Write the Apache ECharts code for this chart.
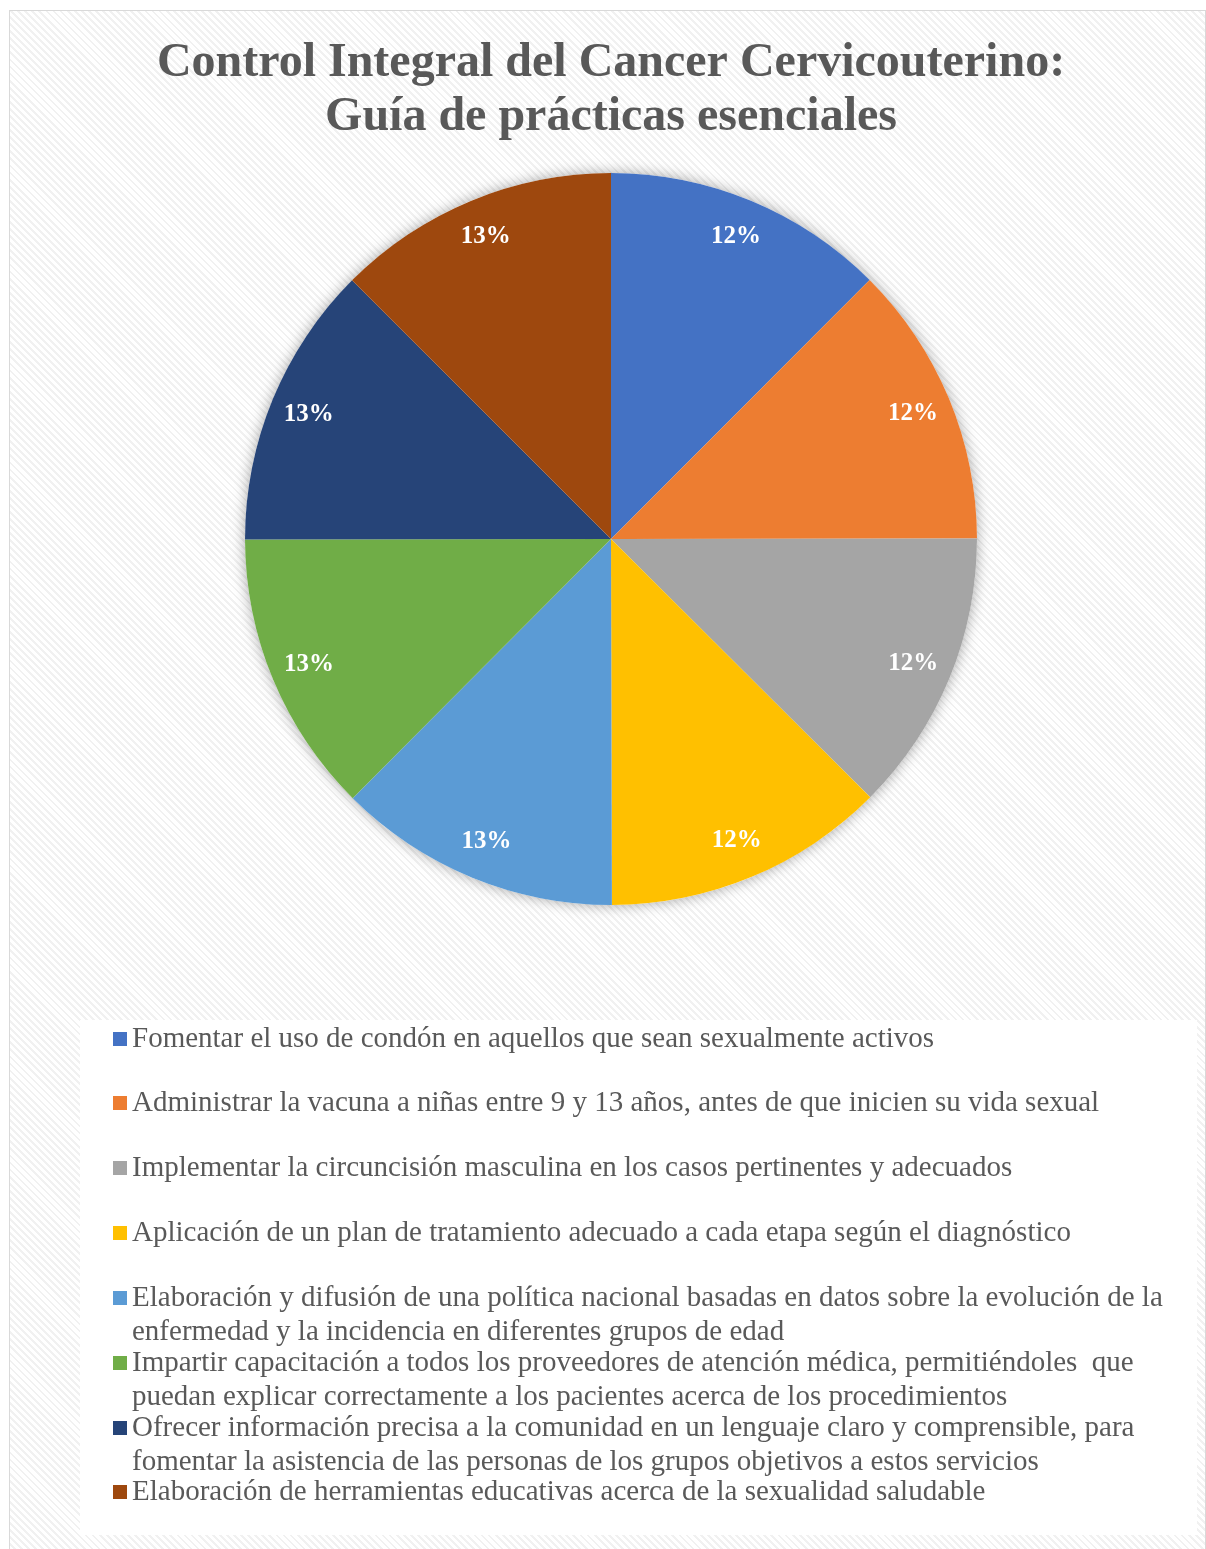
<!DOCTYPE html>
<html>
<head>
<meta charset="utf-8">
<script src="https://cdn.jsdelivr.net/npm/echarts@6/dist/echarts.min.js"></script>
<style>
  html, body { margin: 0; padding: 0; background: #fff; overflow: hidden; }
  #frame {
    position: absolute; left: 9px; top: 10px; width: 1195px; height: 1539px;
    border: 1px solid #d9d9d9;
    background: repeating-linear-gradient(45deg, #ffffff 0px, #ffffff 3px, #f1f1f1 3px, #f1f1f1 5px);
  }
  #chart { position: absolute; left: 0; top: 0; width: 1222px; height: 1549px; }
</style>
</head>
<body>
<div id="frame"></div>
<div id="chart"></div>
<script>
  // datos del grafico
  var categorias = [
    'Fomentar el uso de condón en aquellos que sean sexualmente activos',
    'Administrar la vacuna a niñas entre 9 y 13 años, antes de que inicien su vida sexual',
    'Implementar la circuncisión masculina en los casos pertinentes y adecuados',
    'Aplicación de un plan de tratamiento adecuado a cada etapa según el diagnóstico',
    'Elaboración y difusión de una política nacional basadas en datos sobre la evolución de la enfermedad y la incidencia en diferentes grupos de edad',
    'Impartir capacitación a todos los proveedores de atención médica, permitiéndoles  que puedan explicar correctamente a los pacientes acerca de los procedimientos',
    'Ofrecer información precisa a la comunidad en un lenguaje claro y comprensible, para fomentar la asistencia de las personas de los grupos objetivos a estos servicios',
    'Elaboración de herramientas educativas acerca de la sexualidad saludable'
  ];
  // lineas de la leyenda tal como aparecen
  var lineasLeyenda = [
    ['Fomentar el uso de condón en aquellos que sean sexualmente activos'],
    ['Administrar la vacuna a niñas entre 9 y 13 años, antes de que inicien su vida sexual'],
    ['Implementar la circuncisión masculina en los casos pertinentes y adecuados'],
    ['Aplicación de un plan de tratamiento adecuado a cada etapa según el diagnóstico'],
    ['Elaboración y difusión de una política nacional basadas en datos sobre la evolución de la', 'enfermedad y la incidencia en diferentes grupos de edad'],
    ['Impartir capacitación a todos los proveedores de atención médica, permitiéndoles  que', 'puedan explicar correctamente a los pacientes acerca de los procedimientos'],
    ['Ofrecer información precisa a la comunidad en un lenguaje claro y comprensible, para', 'fomentar la asistencia de las personas de los grupos objetivos a estos servicios'],
    ['Elaboración de herramientas educativas acerca de la sexualidad saludable']
  ];
  var valores = [12.49, 12.49, 12.49, 12.49, 12.51, 12.51, 12.51, 12.51];
  var colores = ['#4472C4', '#ED7D31', '#A5A5A5', '#FFC000', '#5B9BD5', '#70AD47', '#264478', '#9E480E'];

  var fuente = '"Liberation Serif", "Times New Roman", serif';
  var gris = '#595959';
  var lineaAlto = 34;
  var leyendaY = [1039, 1103, 1168, 1233, 1298, 1363, 1428, 1492]; // centro de la primera linea

  var datos = categorias.map(function (c, i) {
    return { name: c, value: valores[i], itemStyle: { color: colores[i] } };
  });

  // una leyenda por elemento; las de dos lineas llevan una linea vacia arriba
  // para que el cuadrito quede a la altura de la primera linea
  var leyendas = categorias.map(function (c, i) {
    var n = lineasLeyenda[i].length;
    return {
      show: true,
      orient: 'vertical',
      left: 113,
      top: leyendaY[i] - lineaAlto / 2 - (n - 1) * lineaAlto,
      padding: 0,
      itemWidth: 14,
      itemHeight: 14,
      icon: 'rect',
      selectedMode: false,
      data: [c],
      formatter: function () {
        var t = lineasLeyenda[i].join('\n');
        return n > 1 ? ' \n' + t : t;
      },
      textStyle: {
        fontFamily: fuente,
        fontSize: 29,
        color: gris,
        lineHeight: lineaAlto
      }
    };
  });

  var chart = echarts.init(document.getElementById('chart'));
  var option = {
    backgroundColor: 'transparent',
    animation: false,
    title: {
      text: 'Control Integral del Cancer Cervicouterino:\nGuía de prácticas esenciales',
      left: 'center',
      top: 32,
      textStyle: {
        fontFamily: fuente,
        fontSize: 48,
        fontWeight: 'bold',
        color: gris,
        lineHeight: 54
      }
    },
    graphic: [{
      type: 'rect',
      z: -10,
      shape: { x: 80, y: 1020, width: 1117, height: 515 },
      style: { fill: '#ffffff' }
    }],
    legend: leyendas,
    series: [
      {
        // sombra del circulo
        type: 'pie',
        z: 1,
        silent: true,
        center: [611, 539],
        radius: 366,
        label: { show: false },
        data: [{ name: 'sombra', value: 1, itemStyle: { color: '#ffffff', shadowBlur: 14, shadowColor: 'rgba(0,0,0,0.35)' } }]
      },
      {
        type: 'pie',
        z: 2,
        center: [611, 539],
        radius: 366,
        startAngle: 90,
        itemStyle: { borderWidth: 0 },
        label: { show: false },
        labelLine: { show: false },
        emphasis: { disabled: true },
        data: datos
      },
      {
        // anillo transparente para ubicar las etiquetas cerca del borde
        type: 'pie',
        z: 3,
        silent: true,
        center: [611, 539],
        radius: [282, 366],
        startAngle: 90,
        itemStyle: { color: 'rgba(0,0,0,0)', borderWidth: 0 },
        label: {
          show: true,
          position: 'inside',
          formatter: '{d}%',
          fontFamily: fuente,
          fontSize: 25,
          fontWeight: 'bold',
          color: '#ffffff'
        },
        percentPrecision: 0,
        labelLine: { show: false },
        data: valores.map(function (v, i) { return { name: categorias[i], value: v }; })
      }
    ]
  };
  chart.setOption(option);
</script>
</body>
</html>
